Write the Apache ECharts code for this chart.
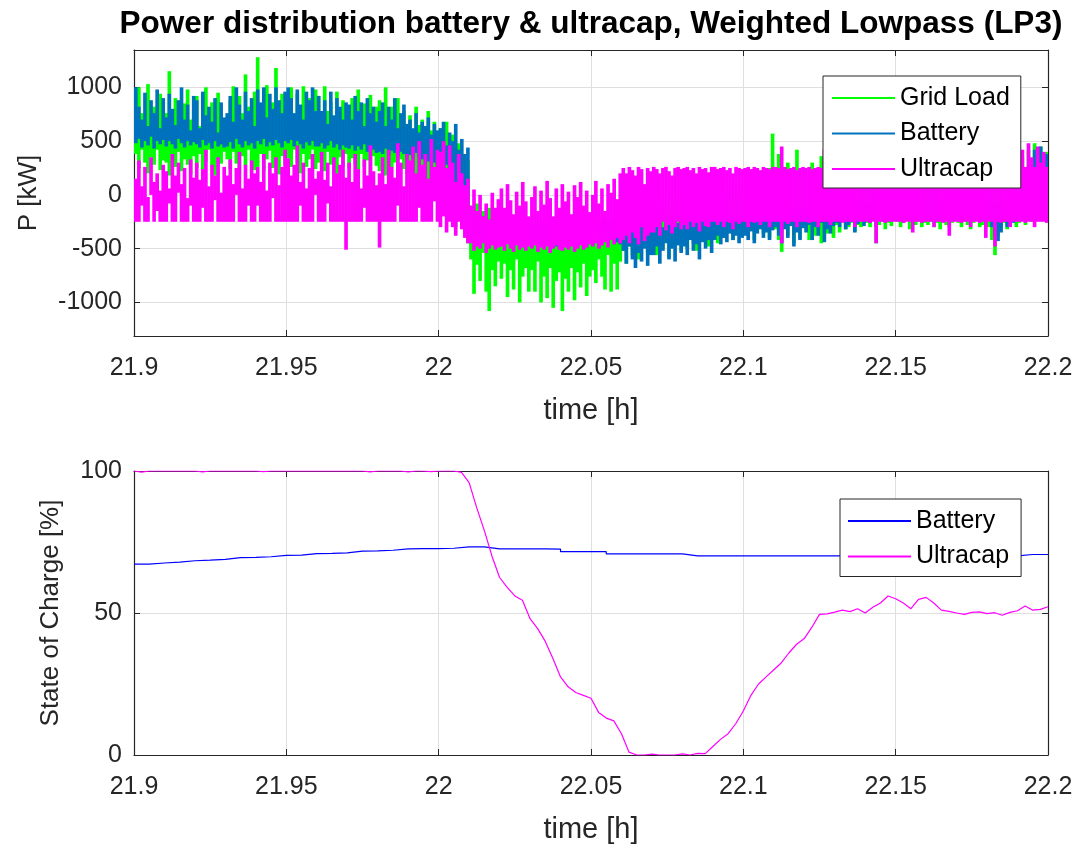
<!DOCTYPE html>
<html>
<head>
<meta charset="utf-8">
<title>Power distribution battery &amp; ultracap</title>
<script src="https://cdn.jsdelivr.net/npm/echarts@6/dist/echarts.min.js"></script>
<style>
  html, body { margin: 0; padding: 0; background: #ffffff; }
  #chart { width: 1080px; height: 847px; }
</style>
</head>
<body>
<div id="chart"></div>
<script>
// ---- Power signals (kW): per 0.001 h slot, the lowest and highest value reached ----
const powerStart = 21.9;
const powerStep = 0.001;

const gridLoadHigh = [
  880, 1000, 760, 620, 1030, 700, 820, 560, 940, 680,
  760, 1150, 640, 900, 720, 560, 850, 980, 700, 800,
  920, 640, 780, 1000, 690, 860, 580, 950, 730, 610,
  700, 880, 1010, 640, 920, 760, 1120, 820, 680, 960,
  1280, 780, 900, 1020, 700, 860, 1180, 760, 940, 650,
  850, 1000, 720, 940, 800, 1010, 680, 900, 760, 980,
  920, 700, 1010, 780, 860, 650, 960, 740, 880, 620,
  760, 900, 640, 980, 720, 850, 600, 930, 700, 820,
  880, 640, 1000, 700, 820, 580, 900, 660, 780, 600,
  740, 560, 820, 650, 700, 520, 780, 600, 680, 540,
  620, 450, 680, 300, 560, 250, 480, 380, 200, 320,
  -100, -200, -80, -300, -150, -250, -120, -280, -180, -220,
  -200, -300, -150, -280, -250, -180, -320, -220, -260, -300,
  -250, -180, -320, -220, -280, -200, -300, -260, -240, -300,
  -300, -240, -280, -200, -320, -260, -220, -300, -250, -280,
  -280, -220, -300, -250, -200, -260, -240, -180, -220, -200,
  -150, -200, -100, -180, -120, -50, -160, -80, -140, -60,
  -50, -100, 0, -80, -30, -120, 20, -60, -90, 0,
  0, -50, 30, -20, -80, 50, -40, 20, -60, 40,
  50, -30, 80, 20, -40, 100, 0, 60, -20, 80,
  100, 60, 150, 40, 120, 80, 180, 90, 250, 570,
  150, 380, 120, 200, 300, 100, 180, 420, 140, 250,
  180, 120, 300, 150, 200, 360, 130, 240, 170, 280,
  200, 150, 280, 130, 250, 180, 320, 160, 220, 140,
  240, 300, 180, 260, 200, 320, 150, 270, 220, 180,
  200, 260, 300, 180, 240, 200, 280, 160, 250, 220,
  260, 200, 300, 240, 180, 280, 220, 330, 200, 260,
  200, 280, 240, 320, 180, 260, 300, 220, 280, 200,
  250, 200, 300, 180, 280, 220, 260, 320, 200, 300,
  280, 350, 240, 420, 300, 480, 360, 450, 320, 400
];
const gridLoadLow = [
  380, 250, 420, 300, 200, 350, 280, 420, 230, 320,
  300, 180, 350, 260, 400, 220, 330, 280, 190, 360,
  250, 380, 200, 310, 420, 260, 180, 340, 290, 400,
  330, 240, 400, 290, 200, 360, 270, 420, 310, 230,
  260, 380, 220, 330, 410, 250, 300, 190, 360, 280,
  340, 260, 420, 300, 200, 380, 260, 330, 420, 240,
  300, 360, 220, 400, 280, 330, 190, 350, 260, 380,
  250, 340, 290, 200, 380, 260, 320, 180, 360, 270,
  220, 310, 180, 350, 250, 300, 160, 330, 240, 200,
  200, 280, 150, 260, 180, 240, 120, 220, 160, 100,
  50, -100, 100, -200, 0, -300, 80, -150, -350, -450,
  -600, -920, -650, -800, -540, -900, -1080, -700, -850, -620,
  -780, -640, -950, -700, -880, -600, -1000, -760, -680, -900,
  -700, -900, -620, -1000, -760, -960, -680, -1050, -800, -720,
  -1080, -780, -900, -680, -980, -720, -860, -640, -940, -760,
  -700, -820, -600, -760, -880, -560, -900, -640, -880, -620,
  -520, -640, -480, -560, -420, -600, -500, -380, -540, -460,
  -420, -560, -380, -500, -440, -580, -360, -480, -400, -520,
  -380, -500, -330, -450, -520, -360, -420, -300, -480, -350,
  -330, -450, -300, -400, -360, -280, -420, -320, -380, -300,
  -300, -380, -260, -420, -320, -250, -360, -300, -400, -280,
  -320, -420, -530, -300, -380, -260, -450, -330, -400, -280,
  -300, -420, -260, -380, -330, -450, -280, -360, -300, -400,
  -280, -350, -250, -320, -300, -260, -340, -280, -300, -250,
  -260, -300, -240, -450, -280, -250, -320, -260, -290, -240,
  -250, -300, -260, -240, -320, -260, -280, -250, -300, -260,
  -280, -250, -300, -260, -320, -250, -280, -300, -260, -240,
  -260, -300, -250, -280, -320, -260, -240, -300, -280, -260,
  -300, -420, -560, -380, -300, -260, -320, -280, -250, -300,
  -260, -200, -280, -150, -250, -100, -200, -50, -150, 0
];

const batteryHigh = [
  1000, 820, 700, 950, 640, 880, 760, 980, 620, 900,
  720, 940, 800, 650, 880, 1000, 700, 840, 600, 920,
  880, 620, 960, 740, 820, 680, 900, 580, 860, 720,
  760, 920, 680, 1000, 840, 700, 960, 780, 900, 640,
  980, 860, 1000, 720, 940, 800, 1000, 880, 760, 960,
  1000, 900, 760, 980, 840, 700, 960, 880, 1000, 780,
  920, 780, 880, 660, 960, 740, 900, 820, 700, 860,
  840, 700, 920, 780, 860, 640, 900, 760, 820, 680,
  780, 860, 640, 820, 700, 900, 620, 760, 840, 660,
  700, 620, 760, 580, 680, 640, 720, 560, 660, 600,
  620, 680, 460, 580, 500, 660, 420, 520, 380, 440,
  -150, -220, -180, -250, -200, -260, -230, -280, -240, -260,
  -260, -240, -280, -250, -300, -270, -260, -290, -250, -280,
  -280, -300, -260, -310, -290, -270, -300, -280, -320, -290,
  -300, -280, -310, -290, -270, -300, -260, -290, -280, -250,
  -250, -230, -260, -220, -240, -270, -230, -250, -280, -260,
  -280, -300, -250, -320, -270, -300, -260, -310, -280, -300,
  -260, -280, -240, -300, -250, -270, -230, -290, -260, -240,
  -240, -260, -220, -270, -230, -250, -210, -260, -230, -220,
  -220, -200, -240, -190, -230, -210, -180, -220, -200, -190,
  -180, -160, -200, -150, -190, -140, -170, -130, -160, -120,
  -140, -120, -160, -100, -150, -110, -130, -90, -140, -100,
  -120, -100, -140, -90, -130, -80, -120, -100, -110, -80,
  -100, -80, -120, -60, -110, -90, -70, -100, -60, -80,
  -80, -60, -100, -50, -90, -40, -80, -60, -70, -50,
  -60, -40, -80, -30, -70, -50, -40, -60, -30, -50,
  -50, -30, -70, -40, -60, -20, -50, -40, -30, -60,
  -40, -20, -60, -30, -50, -10, -40, -30, -20, -50,
  -30, -50, -80, -100, -60, -20, -50, 0, -30, 20,
  50, 120, 100, 250, 180, 420, 300, 450, 260, 380
];
const batteryLow = [
  480, 520, 440, 500, 460, 540, 430, 500, 470, 510,
  450, 500, 470, 430, 520, 480, 440, 500, 460, 490,
  470, 440, 510, 460, 480, 430, 500, 450, 470, 440,
  450, 490, 430, 520, 470, 440, 500, 460, 480, 430,
  500, 470, 520, 450, 490, 460, 510, 480, 440, 500,
  480, 510, 450, 500, 470, 430, 490, 460, 500, 450,
  450, 480, 430, 460, 500, 440, 470, 420, 460, 440,
  430, 460, 410, 450, 420, 470, 400, 440, 420, 390,
  400, 380, 430, 370, 410, 390, 360, 400, 380, 350,
  370, 340, 390, 350, 330, 360, 310, 340, 300, 280,
  250, 200, 280, 150, 220, 100, 180, 50, 0, -100,
  -320, -380, -340, -400, -360, -420, -380, -440, -400, -360,
  -380, -420, -360, -440, -400, -380, -450, -410, -390, -430,
  -410, -450, -390, -470, -430, -400, -460, -420, -480, -440,
  -440, -470, -420, -450, -400, -430, -380, -410, -360, -390,
  -380, -350, -400, -340, -370, -420, -360, -390, -440, -460,
  -520, -640, -480, -600, -680, -540, -620, -500, -660, -560,
  -560, -480, -640, -520, -450, -600, -500, -620, -470, -540,
  -480, -560, -420, -520, -460, -600, -440, -500, -420, -540,
  -420, -380, -460, -400, -440, -360, -420, -380, -450, -400,
  -380, -420, -340, -450, -360, -320, -400, -350, -420, -330,
  -300, -380, -450, -320, -400, -290, -480, -350, -420, -310,
  -350, -280, -420, -300, -380, -260, -440, -320, -360, -290,
  -260, -300, -240, -320, -280, -250, -350, -270, -230, -290,
  -230, -260, -220, -300, -240, -210, -250, -230, -220, -240,
  -200, -230, -190, -220, -210, -180, -240, -200, -190, -220,
  -190, -220, -180, -240, -200, -210, -230, -190, -220, -200,
  -200, -220, -190, -240, -210, -200, -230, -210, -200, -220,
  -220, -300, -380, -430, -350, -250, -300, -220, -260, -200,
  -150, -100, -120, -50, -80, 50, 0, 100, -50, 80
];

const ultracapHigh = [
  150, 320, 80, 260, -20, 350, 120, 200, 40, 280,
  220, 60, 380, 180, 300, 100, 250, -30, 330, 160,
  300, 140, 240, 420, 80, 280, 180, 350, 20, 260,
  180, 330, 100, 250, 400, 60, 280, 150, 320, 200,
  260, 120, 380, 40, 300, 200, 350, 90, 260, 420,
  340, 180, 280, 460, 120, 300, 60, 250, 380, 150,
  220, 400, 140, 300, 80, 350, 200, 280, 420, 160,
  300, 120, 380, 240, 60, 330, 180, 460, 220, 90,
  200, 350, 100, 420, 260, 160, 480, 300, 80, 380,
  320, 450, 200, 500, 280, 380, 150, 520, 260, 420,
  400, 500, 250, 460, 300, 120, 380, 200, 90, 150,
  -100, 50, -150, 0, -200, -80, -230, 20, -120, -40,
  60, -120, 100, -50, -180, 30, -100, 120, -60, -200,
  -20, 80, -150, 40, -90, 130, -30, -200, 60, -120,
  100, -60, 30, -180, 90, -20, 120, -100, 40, -160,
  0, 130, -80, 60, -150, 100, 20, 150, -40, 200,
  250, 200, 260, 230, 180, 260, 240, 100, 250, 220,
  260, 240, 200, 250, 260, 220, 180, 250, 260, 240,
  250, 260, 230, 250, 200, 260, 240, 250, 210, 260,
  260, 240, 250, 260, 230, 250, 200, 260, 250, 240,
  250, 260, 240, 260, 250, 230, 260, 250, 240, 260,
  260, 250, 450, 260, 240, 250, 260, 230, 250, 260,
  250, 260, 240, 250, 260, 250, 420, 260, 240, 250,
  260, 250, 260, 240, 250, 260, 250, 230, 260, 250,
  250, 260, 250, 250, 430, 260, 240, 250, 260, 250,
  260, 250, 250, 260, 240, 250, 260, 250, 250, 260,
  250, 260, 250, 240, 260, 250, 250, 260, 240, 250,
  260, 250, 260, 250, 250, 240, 260, 250, 250, 260,
  250, 260, 250, 240, 260, 250, 260, 250, 240, 260,
  300, 420, 260, 480, 350, 260, 450, 300, 400, 260
];
const ultracapLow = [
  -250, -250, -100, -250, -250, 0, -250, -150, -250, -250,
  -250, -80, -250, -250, 20, -250, -250, -250, -100, -250,
  -250, -250, -120, -250, -250, -250, -50, -250, -250, -250,
  -250, -250, -250, 0, -250, -250, -250, -100, -250, -250,
  -100, -250, -250, -250, -250, -30, -250, -250, -250, -250,
  -250, -250, -250, -250, -100, -250, -250, -250, -250, 0,
  -250, -250, -250, -80, -250, -250, -250, -250, -250, -510,
  -250, -250, -250, -250, -250, -120, -250, -250, -250, -250,
  -490, -250, -250, -250, -250, -250, -100, -250, -250, -250,
  -250, -250, -250, -120, -250, -250, -250, -250, -60, -250,
  -300, -200, -350, -250, -300, -380, -250, -320, -400, -450,
  -450, -520, -480, -500, -450, -540, -500, -470, -510, -490,
  -480, -520, -460, -500, -530, -470, -510, -490, -520, -480,
  -500, -470, -530, -490, -510, -480, -540, -500, -470, -510,
  -520, -490, -510, -480, -530, -500, -470, -510, -490, -460,
  -480, -450, -500, -470, -440, -490, -420, -460, -400, -450,
  -420, -380, -450, -350, -400, -460, -300, -430, -380, -350,
  -350, -300, -380, -250, -330, -280, -360, -300, -250, -320,
  -280, -320, -250, -300, -260, -340, -250, -290, -300, -250,
  -250, -280, -250, -300, -250, -260, -320, -250, -270, -250,
  -250, -300, -250, -260, -250, -280, -250, -250, -300, -250,
  -250, -250, -450, -250, -270, -250, -250, -300, -250, -250,
  -250, -260, -250, -250, -300, -250, -250, -250, -280, -250,
  -250, -250, -260, -250, -250, -250, -300, -250, -250, -250,
  -250, -260, -250, -450, -250, -250, -260, -250, -250, -250,
  -250, -250, -260, -250, -250, -350, -250, -250, -260, -250,
  -250, -250, -300, -250, -250, -260, -250, -380, -250, -250,
  -250, -260, -250, -250, -300, -250, -250, -260, -250, -400,
  -250, -250, -480, -250, -260, -250, -250, -300, -250, -250,
  -250, -250, -260, -250, -250, -300, -250, -250, -250, -260
];

// ---- State of charge (%) ----
const socBatteryStart = 21.9;
const socBatteryStep = 0.005;
const socBattery = [
  67.2, 67.6, 67.9, 68.4, 68.6, 68.9, 69.5, 69.6, 69.8, 70.3,
  70.4, 70.9, 71.0, 71.2, 71.8, 71.9, 72.1, 72.6, 72.7, 72.7,
  72.8, 73.3, 73.3, 72.6, 72.6, 72.6, 72.6, 72.5, 71.6, 71.6,
  71.6, 70.8, 70.8, 70.8, 70.8, 70.8, 70.1, 70.1, 70.1, 70.1,
  70.1, 70.1, 70.1, 70.1, 70.1, 70.1, 70.1, 70.1, 70.1, 70.1,
  70.1, 70.1, 70.1, 70.1, 70.1, 70.1, 70.1, 70.1, 70.6, 70.6, 70.6
];

const socUltracapStart = 21.9;
const socUltracapStep = 0.0025;
const socUltracap = [
  100, 99.6, 100, 100, 100, 100, 100, 100, 100, 99.7,
  100, 100, 100, 100, 100, 100, 100, 99.8, 100, 100,
  100, 100, 100, 100, 100, 100, 100, 100, 100, 100,
  100, 99.7, 100, 100, 100, 100, 99.7, 100, 100, 99.8,
  100, 100, 100, 99.5, 95.9, 87, 79, 70, 62.5, 59,
  56, 54.5, 48, 44.5, 40, 34, 27.5, 24, 22, 21,
  20, 15, 13, 12, 7.5, 1, 0, 0, 0.3, 0,
  0, 0, 0.4, 0, 0.6, 0.5, 3, 5.5, 7.5, 11,
  15.5, 21, 25, 27.5, 30, 32.5, 36, 39, 41, 45,
  49.5, 49.7, 50.3, 51, 50.5, 51.5, 50, 52, 53.5, 56,
  55, 53.5, 51.5, 54.8, 55.5, 53.5, 51, 50.6, 50, 49.5,
  50.2, 50.4, 49.8, 50.1, 49.2, 50.2, 50.8, 52.5, 51, 51.3,
  52.2
];

// axis ranges
const timeMin = 21.9;
const timeMax = 22.2;
const timeTick = 0.05;
const powerMin = -1312;
const powerMax = 1347;

function withTime(values, start, step) {
  return values.map((v, i) => [+(start + i * step).toFixed(5), v]);
}
function withRange(low, high, start, step) {
  return low.map((v, i) => [+(start + i * step).toFixed(5), v, high[i]]);
}

const FONT = '"Liberation Sans", Arial, Helvetica, sans-serif';
const AXIS = '#262626';
const GRID = '#dfdfdf';

function fmtTime(v) { return String(parseFloat(v.toFixed(2))); }

function timeAxis(gridIndex, bottom) {
  return {
    type: 'value', gridIndex: gridIndex, position: bottom ? 'bottom' : 'top',
    min: timeMin, max: timeMax, interval: timeTick,
    name: bottom ? 'time [h]' : '', nameLocation: 'middle', nameGap: 60,
    nameTextStyle: { fontFamily: FONT, fontSize: 29, color: AXIS },
    axisLine: { show: true, onZero: false, lineStyle: { color: AXIS, width: 1.2 } },
    axisTick: { show: true, inside: true, length: 6, lineStyle: { color: AXIS } },
    axisLabel: { show: bottom, fontFamily: FONT, fontSize: 25, color: AXIS, margin: 20, formatter: fmtTime },
    splitLine: { show: bottom, lineStyle: { color: GRID, width: 1 } }
  };
}

function valueAxis(gridIndex, left, opts) {
  return Object.assign({
    type: 'value', gridIndex: gridIndex, position: left ? 'left' : 'right',
    nameLocation: 'middle',
    nameTextStyle: { fontFamily: FONT, fontSize: 26, color: AXIS },
    axisLine: { show: true, onZero: false, lineStyle: { color: AXIS, width: 1.2 } },
    axisTick: { show: true, inside: true, length: 6, lineStyle: { color: AXIS } },
    axisLabel: { show: left, fontFamily: FONT, fontSize: 25, color: AXIS, margin: 12,
                 showMinLabel: false, showMaxLabel: false, formatter: v => String(v) },
    splitLine: { show: left, lineStyle: { color: GRID, width: 1 } }
  }, opts);
}

function legendBox(names, left, top, padding) {
  return {
    data: names, orient: 'vertical', left: left, top: top,
    padding: padding, itemGap: 7.5,
    icon: 'rect', itemWidth: 63, itemHeight: 2,
    backgroundColor: '#ffffff', borderColor: AXIS, borderWidth: 1, borderRadius: 0,
    textStyle: { fontFamily: FONT, fontSize: 25, color: '#000000', lineHeight: 28 },
    formatter: n => n.replace(/^SOC /, '')
  };
}

// Each power slot is drawn as a vertical stroke spanning [low, high] over its time slot.
function bandSeries(name, low, high, color) {
  return {
    type: 'custom', name: name, xAxisIndex: 0, yAxisIndex: 0,
    data: withRange(low, high, powerStart, powerStep),
    encode: { x: 0, y: [1, 2] },
    itemStyle: { color: color },
    animation: false,
    renderItem: function (params, api) {
      const t = api.value(0);
      const a = api.coord([t, api.value(2)]);
      const b = api.coord([t + powerStep, api.value(1)]);
      const cs = params.coordSys;
      const rect = echarts.graphic.clipRectByRect(
        { x: a[0], y: a[1], width: b[0] - a[0] + 0.6, height: Math.max(b[1] - a[1], 1.2) },
        { x: cs.x, y: cs.y, width: cs.width, height: cs.height }
      );
      return rect && { type: 'rect', shape: rect, style: { fill: color } };
    }
  };
}

function lineSeries(name, data, color, step) {
  return {
    type: 'line', name: name, data: data, xAxisIndex: 2, yAxisIndex: 2,
    step: step, symbol: 'none', showSymbol: false, sampling: null,
    lineStyle: { color: color, width: 1.2 }, itemStyle: { color: color },
    emphasis: { disabled: true }, animation: false, clip: true
  };
}

const chart = echarts.init(document.getElementById('chart'), null, { renderer: 'canvas', width: 1080, height: 847 });

chart.setOption({
  backgroundColor: '#ffffff',
  animation: false,
  title: {
    text: 'Power distribution battery & ultracap, Weighted Lowpass (LP3)',
    left: 586, top: 3, textAlign: 'center',
    textStyle: { fontFamily: FONT, fontSize: 31.5, fontWeight: 'bold', color: '#000000' }
  },
  grid: [
    { left: 134, top: 50, width: 914, height: 286, containLabel: false },
    { left: 134, top: 471, width: 914, height: 284, containLabel: false }
  ],
  xAxis: [
    timeAxis(0, true), timeAxis(0, false),
    timeAxis(1, true), timeAxis(1, false)
  ],
  yAxis: [
    valueAxis(0, true, { min: powerMin, max: powerMax, name: 'P [kW]', nameGap: 92 }),
    valueAxis(0, false, { min: powerMin, max: powerMax }),
    valueAxis(1, true, { min: 0, max: 100, interval: 50, name: 'State of Charge [%]', nameGap: 70,
      axisLabel: { show: true, fontFamily: FONT, fontSize: 25, color: AXIS, margin: 12 } }),
    valueAxis(1, false, { min: 0, max: 100, interval: 50 })
  ],
  legend: [
    legendBox(['Grid Load', 'Battery', 'Ultracap'], 823, 76, [8, 11, 5, 9]),
    legendBox(['SOC Battery', 'SOC Ultracap'], 840, 499, [8, 12, 6, 8])
  ],
  series: [
    bandSeries('Grid Load', gridLoadLow, gridLoadHigh, '#00ff00'),
    bandSeries('Battery', batteryLow, batteryHigh, '#0072bd'),
    bandSeries('Ultracap', ultracapLow, ultracapHigh, '#ff00ff'),
    lineSeries('SOC Battery', withTime(socBattery, socBatteryStart, socBatteryStep), '#0000ff', 'end'),
    lineSeries('SOC Ultracap', withTime(socUltracap, socUltracapStart, socUltracapStep), '#ff00ff', false)
  ]
});
</script>
</body>
</html>
